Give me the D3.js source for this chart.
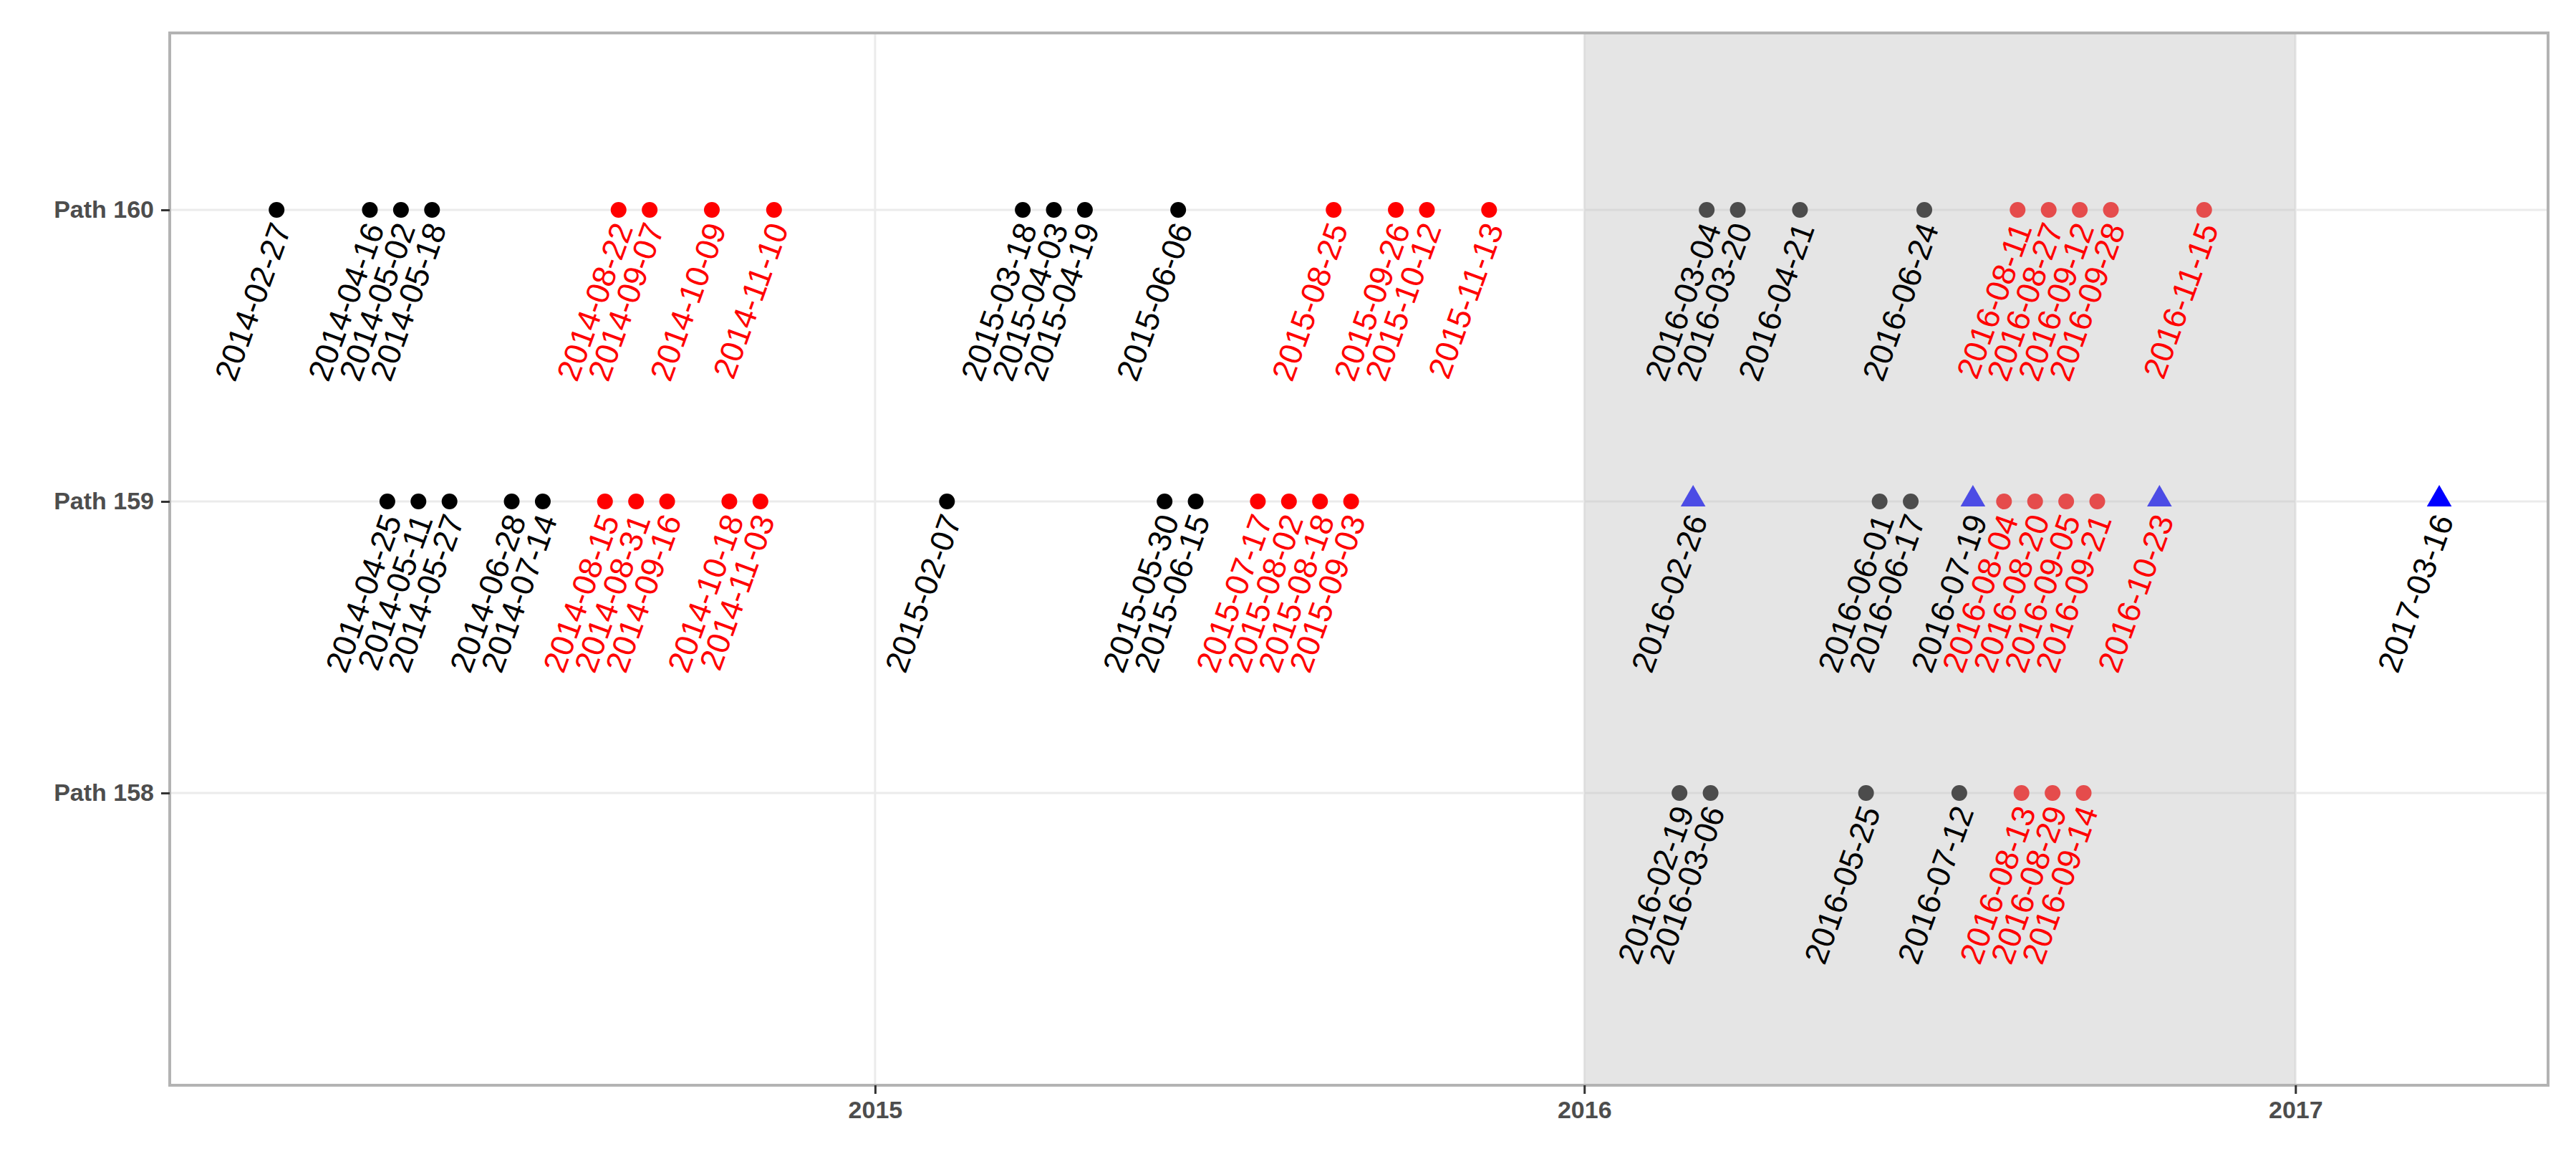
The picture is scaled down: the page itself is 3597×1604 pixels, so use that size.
<!DOCTYPE html>
<html>
<head>
<style>
body{margin:0;background:#fff}
text{font-family:"Liberation Sans",Arial,sans-serif}
</style>
<script src="https://cdn.jsdelivr.net/npm/d3@7"></script>
</head>
<body>
<svg id="chart" width="3597" height="1604"></svg>
<script>
var paths=['Path 158','Path 159','Path 160']
var p160Black=['2014-02-27','2014-04-16','2014-05-02','2014-05-18','2015-03-18','2015-04-03','2015-04-19','2015-06-06','2016-03-04','2016-03-20','2016-04-21','2016-06-24']
var p160Red=['2014-08-22','2014-09-07','2014-10-09','2014-11-10','2015-08-25','2015-09-26','2015-10-12','2015-11-13','2016-08-11','2016-08-27','2016-09-12','2016-09-28','2016-11-15']
var p159Black=['2014-04-25','2014-05-11','2014-05-27','2014-06-28','2014-07-14','2015-02-07','2015-05-30','2015-06-15','2016-06-01','2016-06-17']
var p159Red=['2014-08-15','2014-08-31','2014-09-16','2014-10-18','2014-11-03','2015-07-17','2015-08-02','2015-08-18','2015-09-03','2016-08-04','2016-08-20','2016-09-05','2016-09-21']
var p159Tri=['2016-02-26','2016-07-19','2016-10-23','2017-03-16']
var p159TriLabel=['black','black','red','black']
var p158Black=['2016-02-19','2016-03-06','2016-05-25','2016-07-12']
var p158Red=['2016-08-13','2016-08-29','2016-09-14']
var shadeRange=['2016-01-01','2017-01-01']
var yearTicks=['2015-01-01','2016-01-01','2017-01-01']

var parse=d3.timeParse('%Y-%m-%d')
var pts=[]
function add(list,path,shape,dot,lab){
	list.forEach(function(d,i){
		pts.push({date:parse(d),label:d,path:path,shape:shape,dot:dot,lab:Array.isArray(lab)?lab[i]:lab})
	})
}
add(p160Black,'Path 160','circle','black','black')
add(p160Red,'Path 160','circle','red','red')
add(p159Black,'Path 159','circle','black','black')
add(p159Red,'Path 159','circle','red','red')
add(p159Tri,'Path 159','triangle','blue',p159TriLabel)
add(p158Black,'Path 158','circle','black','black')
add(p158Red,'Path 158','circle','red','red')

var L=237,R=3558,T=46,B=1515
var svg=d3.select('#chart')
var x=d3.scaleTime().domain([parse('2014-01-03'),parse('2017-05-11')]).range([L,R])
var y=d3.scalePoint().domain(paths).range([1107,293])

// panel grid
var g=svg.append('g')
g.selectAll('.hg').data(paths).enter().append('line')
	.attr('x1',L).attr('x2',R).attr('y1',d=>y(d)).attr('y2',d=>y(d))
	.attr('stroke','#ebebeb').attr('stroke-width',3)
g.selectAll('.vg').data(yearTicks).enter().append('line')
	.attr('y1',T).attr('y2',B).attr('x1',d=>x(parse(d))).attr('x2',d=>x(parse(d)))
	.attr('stroke','#ebebeb').attr('stroke-width',3)

// points
var sym=d3.symbol().type(d3.symbolTriangle).size(520)
g.selectAll('.pt').data(pts).enter().append('path')
	.attr('transform',d=>'translate('+x(d.date)+','+(y(d.path)-(d.shape=='triangle'?3:0))+')')
	.attr('d',d=>d.shape=='triangle'?sym():d3.symbol().type(d3.symbolCircle).size(380)())
	.attr('fill',d=>d.dot)

// shaded year
svg.append('rect')
	.attr('x',x(parse(shadeRange[0]))).attr('width',x(parse(shadeRange[1]))-x(parse(shadeRange[0])))
	.attr('y',T).attr('height',B-T)
	.attr('fill','#bebebe').attr('opacity',0.4)

// labels
svg.selectAll('.lab').data(pts).enter().append('text')
	.attr('transform',d=>'translate('+(x(d.date)+6)+','+(y(d.path)+20)+') rotate(-70)')
	.attr('text-anchor','end').attr('dy','0.35em')
	.attr('font-size',45).attr('fill',d=>d.lab)
	.text(d=>d.label)

// border
svg.append('rect').attr('x',L).attr('y',T).attr('width',R-L).attr('height',B-T)
	.attr('fill','none').attr('stroke','#b3b3b3').attr('stroke-width',4)

// axes
var xa=svg.append('g').attr('transform','translate(0,'+B+')')
	.call(d3.axisBottom(x).tickValues(yearTicks.map(parse)).tickFormat(d3.timeFormat('%Y')).tickSize(12).tickPadding(10))
var ya=svg.append('g').attr('transform','translate('+L+',0)')
	.call(d3.axisLeft(y).tickSize(12).tickPadding(10))
svg.selectAll('.domain').remove()
svg.selectAll('.tick line').attr('stroke','#333').attr('stroke-width',3)
svg.selectAll('.tick text').attr('font-size',34).attr('font-weight','bold').attr('fill','#4d4d4d')
	.style('font-family','"Liberation Sans",Arial,sans-serif')
</script>
</body>
</html>
